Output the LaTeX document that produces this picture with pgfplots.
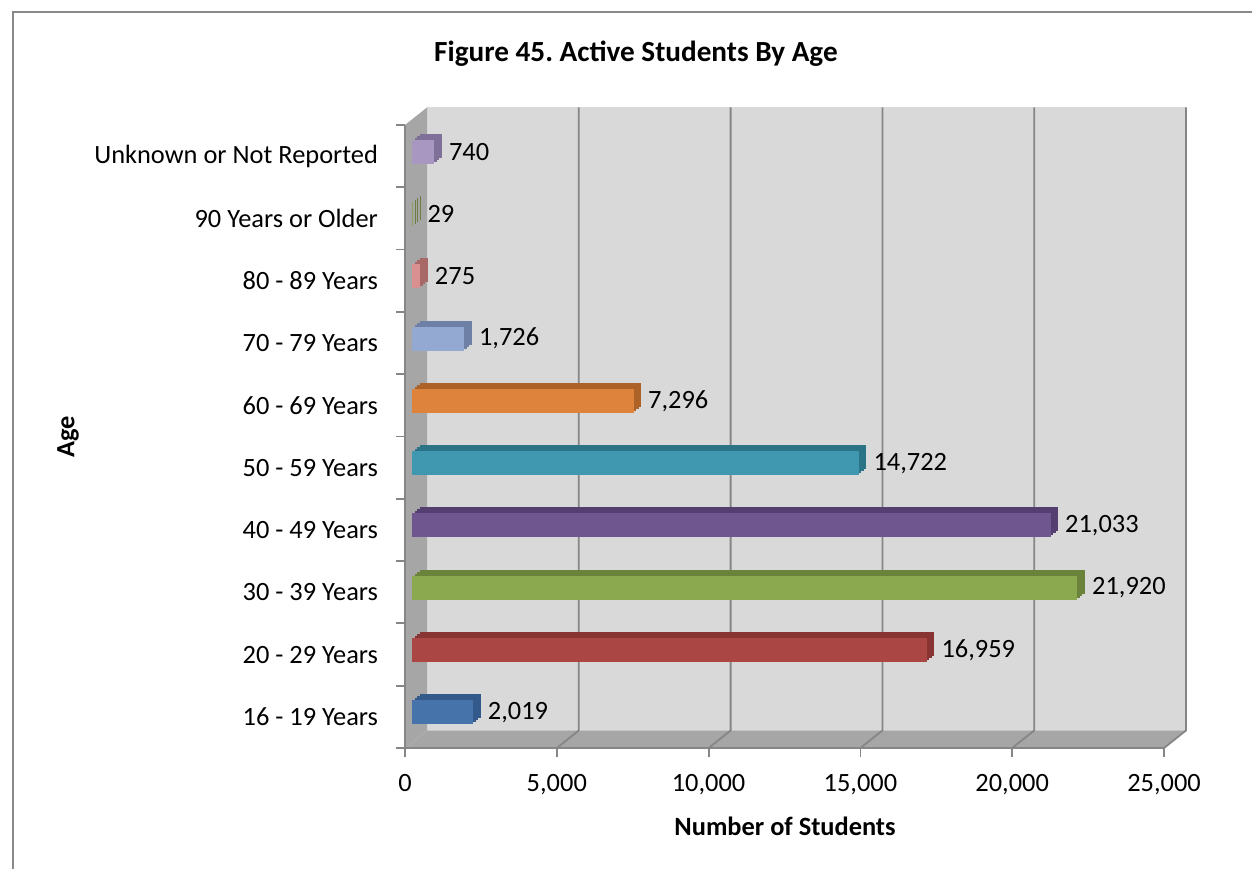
\documentclass[border=0pt]{standalone}
\usepackage{fontspec}
\setmainfont{Carlito}
\usepackage{pgfplots}
\pgfplotsset{compat=1.18}
\frenchspacing
\definecolor{framegray}{HTML}{898989}
\definecolor{gridgray}{HTML}{868686}
\definecolor{wallback}{HTML}{D9D9D9}
\definecolor{wallside}{HTML}{A6A6A6}
\definecolor{cA}{HTML}{4673AA}\definecolor{dA}{HTML}{335A8A}
\definecolor{cB}{HTML}{AA4643}\definecolor{dB}{HTML}{873432}
\definecolor{cC}{HTML}{8BA94F}\definecolor{dC}{HTML}{6B823A}
\definecolor{cD}{HTML}{70568F}\definecolor{dD}{HTML}{553F71}
\definecolor{cE}{HTML}{3F98AF}\definecolor{dE}{HTML}{2B7487}
\definecolor{cF}{HTML}{DD833C}\definecolor{dF}{HTML}{AD6228}
\definecolor{cG}{HTML}{94A9D2}\definecolor{dG}{HTML}{6E80A6}
\definecolor{cH}{HTML}{D99090}\definecolor{dH}{HTML}{A86868}
\definecolor{cI}{HTML}{8DA05E}\definecolor{dI}{HTML}{6D7E45}
\definecolor{cJ}{HTML}{A898C1}\definecolor{dJ}{HTML}{7F7099}
\newcommand{\lblfont}{\fontsize{13.2bp}{15.8bp}\selectfont}
\pgfplotsset{
  /pgf/number format/assume math mode=true,
  /pgf/number format/1000 sep={,},
  sb/.style={xbar, bar width=12bp, bar shift=0pt, draw=none, fill=#1},
  s1/.style={sb=#1, xshift=7.25bp, yshift=5.25bp},
  s2/.style={sb=#1, xshift=6.0bp, yshift=4.25bp},
  s3/.style={sb=#1, xshift=4.75bp, yshift=3.25bp},
  frontbar/.style={xbar, bar width=12bp, bar shift=0pt, draw=none, fill=#1, xshift=3.5bp, yshift=2.25bp,
     nodes near coords, nodes near coords style={anchor=west, xshift=3.8bp, font=\lblfont, text=black}},
}
\tikzset{back/.style={shift={(11bp,8.75bp)}}}
\begin{document}
\begin{tikzpicture}
\begin{axis}[
  at={(202.5bp,60.5bp)}, anchor=south west,
  scale only axis, width=379.5bp, height=311.5bp,
  xmin=0, xmax=25000, ymin=-0.5, ymax=9.5,
  clip=false, axis on top=true,
  axis x line*=bottom, axis y line*=left,
  axis line style={draw=gridgray, line width=0.9bp, -},
  xtick={0,5000,10000,15000,20000,25000},
  ytick={0,...,9},
  yticklabels={16 - 19 Years,20 - 29 Years,30 - 39 Years,40 - 49 Years,50 - 59 Years,60 - 69 Years,70 - 79 Years,80 - 89 Years,90 Years or Older,Unknown or Not Reported},
  minor ytick={-0.5,0.5,...,9.5},
  tick align=outside,
  major tick length=4.5bp, minor tick length=4.5bp,
  major y tick style={draw=none},
  every tick/.style={draw=gridgray, line width=0.9bp},
  tick label style={font=\lblfont, text=black},
  yticklabel style={xshift=-5.5bp},
  xticklabel style={yshift=-5bp},
  scaled x ticks=false,
  title={Figure 45. Active Students By Age},
  title style={at={(axis description cs:0.3043,1)}, yshift=29.5bp, anchor=center, font=\bfseries\fontsize{14.6bp}{17bp}\selectfont},
  xlabel={Number of Students},
  xlabel style={at={(axis description cs:0.5007,0)}, yshift=-39bp, anchor=center, font=\bfseries\lblfont},
  ylabel={Age},
  ylabel style={at={([xshift=-168.5bp]axis description cs:0,0.499)}, anchor=center, rotate=0, font=\bfseries\lblfont},
]
% walls
\fill[wallback] ([back]axis cs:0,-0.5) rectangle ([back]axis cs:25000,9.5);
\fill[wallside] (axis cs:0,-0.5) -- ([back]axis cs:0,-0.5) -- ([back]axis cs:0,9.5) -- (axis cs:0,9.5) -- cycle;
\fill[wallside] (axis cs:0,-0.5) -- ([back]axis cs:0,-0.5) -- ([back]axis cs:25000,-0.5) -- (axis cs:25000,-0.5) -- cycle;
\pgfplotsinvokeforeach{5000,10000,15000,20000,25000}{
  \draw[gridgray, line width=0.9bp] ([back]axis cs:#1,9.5) -- ([back]axis cs:#1,-0.5) -- (axis cs:#1,-0.5);
}
% depth faces (drawn back to front)
\addplot[s1=dA] coordinates {(2019,0)};
\addplot[s2=dA] coordinates {(2019,0)};
\addplot[s3=dA] coordinates {(2019,0)};
\addplot[s1=dB] coordinates {(16959,1)};
\addplot[s2=dB] coordinates {(16959,1)};
\addplot[s3=dB] coordinates {(16959,1)};
\addplot[s1=dC] coordinates {(21920,2)};
\addplot[s2=dC] coordinates {(21920,2)};
\addplot[s3=dC] coordinates {(21920,2)};
\addplot[s1=dD] coordinates {(21033,3)};
\addplot[s2=dD] coordinates {(21033,3)};
\addplot[s3=dD] coordinates {(21033,3)};
\addplot[s1=dE] coordinates {(14722,4)};
\addplot[s2=dE] coordinates {(14722,4)};
\addplot[s3=dE] coordinates {(14722,4)};
\addplot[s1=dF] coordinates {(7296,5)};
\addplot[s2=dF] coordinates {(7296,5)};
\addplot[s3=dF] coordinates {(7296,5)};
\addplot[s1=dG] coordinates {(1726,6)};
\addplot[s2=dG] coordinates {(1726,6)};
\addplot[s3=dG] coordinates {(1726,6)};
\addplot[s1=dH] coordinates {(275,7)};
\addplot[s2=dH] coordinates {(275,7)};
\addplot[s3=dH] coordinates {(275,7)};
\addplot[s1=dI] coordinates {(29,8)};
\addplot[s2=dI] coordinates {(29,8)};
\addplot[s3=dI] coordinates {(29,8)};
\addplot[s1=dJ] coordinates {(740,9)};
\addplot[s2=dJ] coordinates {(740,9)};
\addplot[s3=dJ] coordinates {(740,9)};
% front faces
\addplot[frontbar=cA] coordinates {(2019,0)};
\addplot[frontbar=cB] coordinates {(16959,1)};
\addplot[frontbar=cC] coordinates {(21920,2)};
\addplot[frontbar=cD] coordinates {(21033,3)};
\addplot[frontbar=cE] coordinates {(14722,4)};
\addplot[frontbar=cF] coordinates {(7296,5)};
\addplot[frontbar=cG] coordinates {(1726,6)};
\addplot[frontbar=cH] coordinates {(275,7)};
\addplot[frontbar=cI] coordinates {(29,8)};
\addplot[frontbar=cJ] coordinates {(740,9)};
\end{axis}
\draw[framegray, line width=1bp] (6.5bp,0) -- (6.5bp,428.5bp) -- (626bp,428.5bp);
\pgfresetboundingbox
\path[use as bounding box] (0,0) rectangle (626bp,434.5bp);
\end{tikzpicture}
\end{document}
